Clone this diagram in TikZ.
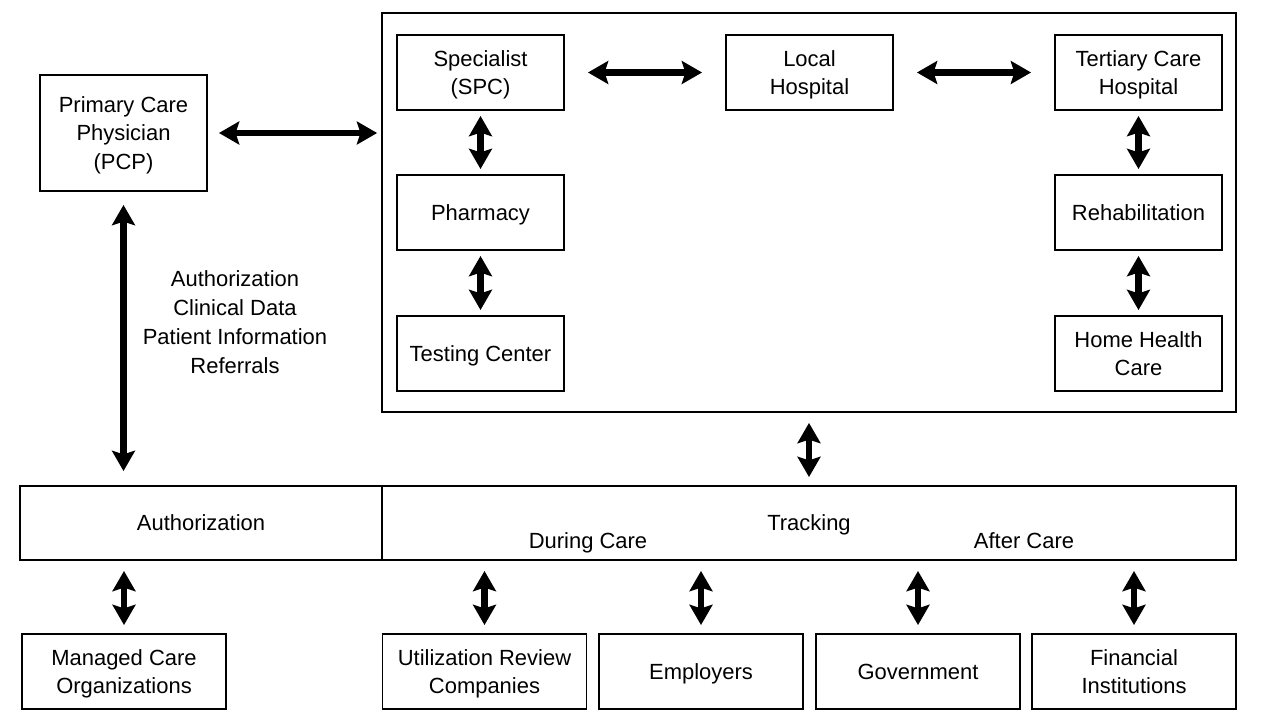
\documentclass[tikz,border=0pt]{standalone}
\usepackage{fontspec}
\setmainfont{Liberation Sans}
\usepackage{tikz}
\usetikzlibrary{arrows.meta}
\usetikzlibrary{calc}

\tikzset{
  box/.style={draw,line width=1.1pt,minimum width=3.34cm,minimum height=1.5cm,align=center,text depth=0pt},
  wide/.style={draw,line width=1.1pt,minimum height=1.48cm,align=center,text depth=0pt},
  dbl/.style={{Stealth[length=11.5pt,width=13pt,inset=2pt]}-{Stealth[length=11.5pt,width=13pt,inset=2pt]},line width=3.6pt}
}

\begin{document}
\begin{tikzpicture}[x=0.02cm,y=-0.02cm,font=\fontsize{12.5}{16.4}\selectfont]

			\useasboundingbox (0,0) rectangle (1280,720);

			% Care network
			\node[draw,line width=1.1pt,minimum width=17.08cm,minimum height=7.98cm] (care) at (809,212.5) {};
			\node[box] (spc) at (480.5,72.5) {Specialist\\(SPC)};
			\node[box] (local) at (809.5,72.5) {Local\\Hospital};
			\node[box] (tert) at (1138.5,72.5) {Tertiary Care\\Hospital};
			\node[box] (pharm) at (480.5,212.5) {Pharmacy};
			\node[box] (test) at (480.5,353.5) {Testing Center};
			\node[box] (rehab) at (1138.5,212.5) {Rehabilitation};
			\node[box] (home) at (1138.5,353.5) {Home Health\\Care};

			% PCP
			\node[box,minimum height=2.32cm] (pcp) at (123.5,133) {Primary Care\\Physician\\(PCP)};

			% Middle bar
			\node[wide,minimum width=7.24cm] (auth) at (201,523) {Authorization};
			\node[wide,minimum width=17.08cm] (track) at (809,523) {Tracking};
			\node[text depth=0pt] (during) at (588,541) {During Care};
			\node[text depth=0pt] (after) at (1024,541) {After Care};

			% Bottom row
			\node[box,minimum width=4.08cm] (mco) at (124,671.5) {Managed Care\\Organizations};
			\node[box,minimum width=4.08cm] (urc) at (484.5,671.5) {Utilization Review\\Companies};
			\node[box,minimum width=4.08cm] (emp) at (701,671.5) {Employers};
			\node[box,minimum width=4.08cm] (gov) at (918,671.5) {Government};
			\node[box,minimum width=4.08cm] (fin) at (1134,671.5) {Financial\\Institutions};

			% Flow labels
			\node[align=center,text depth=0pt] (flows) at (235,322) {Authorization\\Clinical Data\\Patient Information\\Referrals};

			% Arrows
			\draw[dbl,shorten <=0.22cm,shorten >=0.08cm] (pcp.east) -- (pcp.east -| care.west);
			\draw[dbl,shorten <=0.46cm,shorten >=0.46cm] (spc) -- (local);
			\draw[dbl,shorten <=0.46cm,shorten >=0.46cm] (local) -- (tert);
			\draw[dbl,shorten <=0.1cm,shorten >=0.1cm] (spc) -- (pharm);
			\draw[dbl,shorten <=0.1cm,shorten >=0.1cm] (pharm) -- (test);
			\draw[dbl,shorten <=0.1cm,shorten >=0.1cm] (tert) -- (rehab);
			\draw[dbl,shorten <=0.1cm,shorten >=0.1cm] (rehab) -- (home);
			\draw[dbl,shorten <=0.26cm,shorten >=0.28cm] (pcp.south) -- (pcp.south |- auth.north);
			\draw[dbl,shorten <=0.2cm,shorten >=0.16cm] (care.south) -- (track.north);
			\draw[dbl,shorten <=0.2cm,shorten >=0.16cm] (mco.north |- auth.south) -- (mco.north);
			\draw[dbl,shorten <=0.2cm,shorten >=0.16cm] (urc.north |- track.south) -- (urc.north);
			\draw[dbl,shorten <=0.2cm,shorten >=0.16cm] (emp.north |- track.south) -- (emp.north);
			\draw[dbl,shorten <=0.2cm,shorten >=0.16cm] (gov.north |- track.south) -- (gov.north);
			\draw[dbl,shorten <=0.2cm,shorten >=0.16cm] (fin.north |- track.south) -- (fin.north);

		\end{tikzpicture}
\end{document}
